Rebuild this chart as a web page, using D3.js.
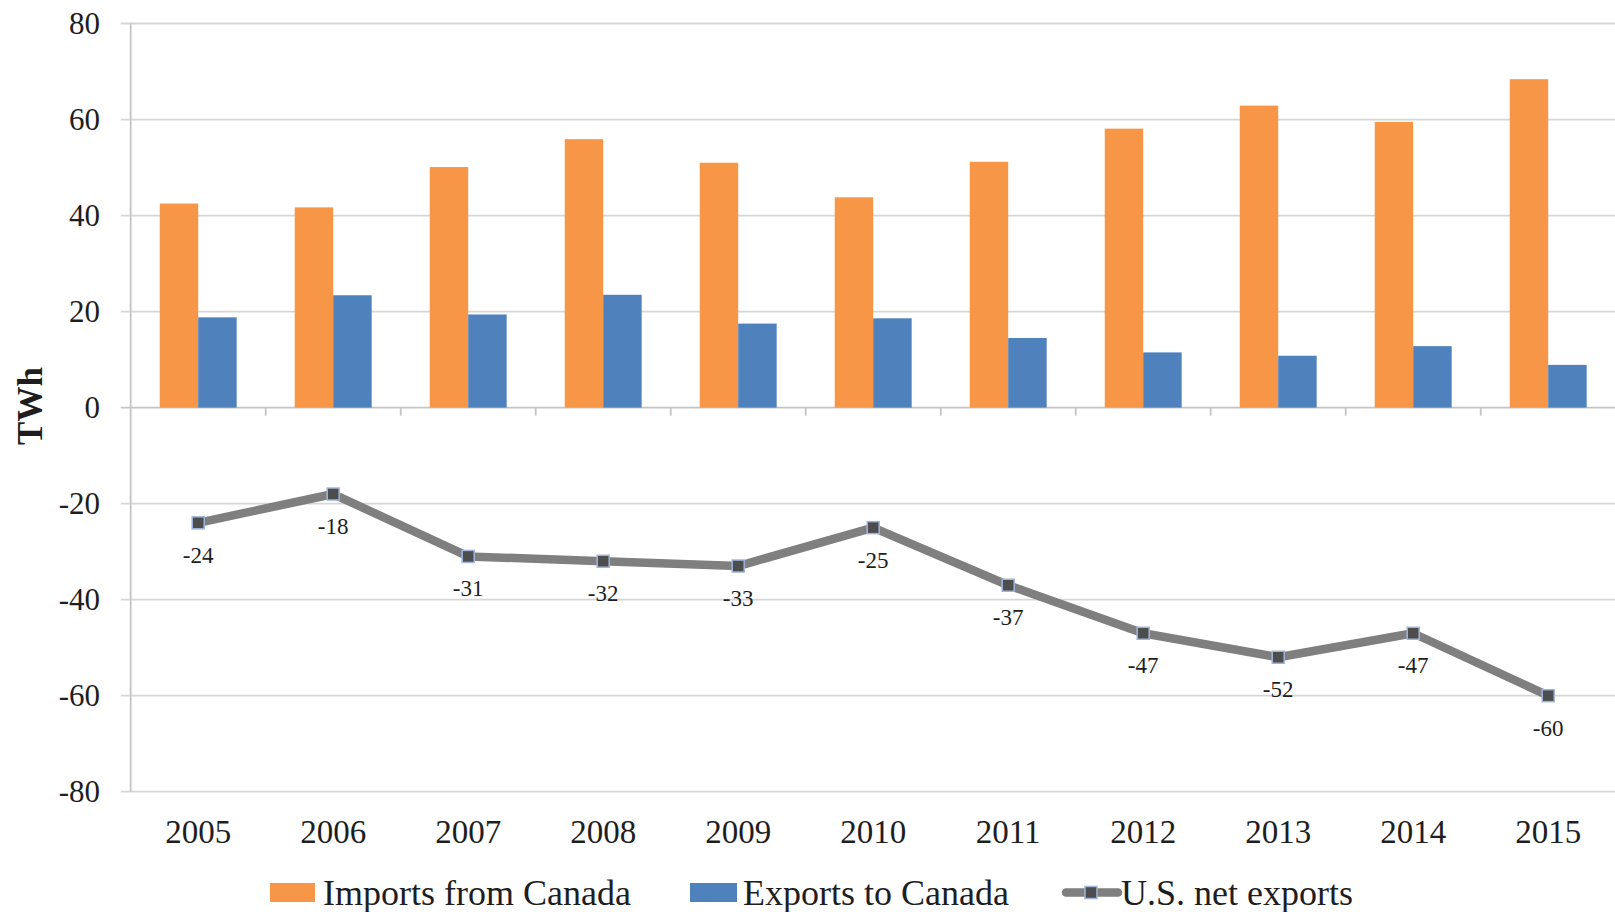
<!DOCTYPE html>
<html>
<head>
<meta charset="utf-8">
<script src="https://cdn.jsdelivr.net/npm/d3@7"></script>
<style>
  html, body { margin: 0; padding: 0; background: #fff; }
  svg text { font-family: "Liberation Serif", "Times New Roman", serif; fill: #1e1e1e; }
</style>
</head>
<body>
<svg id="chart" width="1615" height="912"></svg>
<script>
// U.S.–Canada electricity trade, TWh
const years = ["2005","2006","2007","2008","2009","2010","2011","2012","2013","2014","2015"];
const importsFromCanada = [42.5, 41.7, 50.1, 55.9, 51.0, 43.8, 51.2, 58.1, 62.9, 59.5, 68.4];
const exportsToCanada   = [18.8, 23.4, 19.4, 23.5, 17.5, 18.6, 14.5, 11.5, 10.8, 12.8,  8.9];
const netExports        = [-24, -18, -31, -32, -33, -25, -37, -47, -52, -47, -60];
const yTicks = [80, 60, 40, 20, 0, -20, -40, -60, -80];
const seriesNames = ["Imports from Canada", "Exports to Canada", "U.S. net exports"];

const colors = { imports: "#f79646", exports: "#4f81bd", net: "#7f7f7f", marker: "#4d4d4d", markerEdge: "#9fb6dc" };

const svg = d3.select("#chart");
const plot = { left: 130.7, right: 1615.7, top: 23.5, bottom: 791.7 };

const x = d3.scaleBand().domain(years).range([plot.left, plot.right]).padding(0);
const groupFrac = 0.57;
const inner = d3.scaleBand().domain(["imports", "exports"])
  .range([x.bandwidth() * (1 - groupFrac) / 2, x.bandwidth() * (1 + groupFrac) / 2]).padding(0);
const y = d3.scaleLinear().domain([-80, 80]).range([plot.bottom, plot.top]);

// horizontal gridlines with short left ticks
svg.append("g").selectAll("line").data(yTicks).join("line")
  .attr("x1", plot.left - 10).attr("x2", 1615)
  .attr("y1", d => y(d)).attr("y2", d => y(d))
  .attr("stroke", d => d === 0 ? "#c4c4c4" : "#d6d6d6")
  .attr("stroke-width", 1.8);

// vertical axis line
svg.append("line")
  .attr("x1", plot.left).attr("x2", plot.left)
  .attr("y1", plot.top).attr("y2", plot.bottom)
  .attr("stroke", "#c4c4c4").attr("stroke-width", 1.8);

// y tick labels
svg.append("g").selectAll("text").data(yTicks).join("text")
  .attr("x", 100).attr("y", d => y(d))
  .attr("text-anchor", "end").attr("dominant-baseline", "central")
  .style("font-size", "31px")
  .text(d => d);

// category ticks on the zero line
const catEdges = years.map(yr => x(yr)).slice(1);
svg.append("g").selectAll("line").data(catEdges).join("line")
  .attr("x1", d => d).attr("x2", d => d)
  .attr("y1", y(0)).attr("y2", y(0) + 8)
  .attr("stroke", "#c4c4c4").attr("stroke-width", 1.8);

// bars
const barG = svg.append("g");
barG.selectAll("rect.imp").data(years).join("rect")
  .attr("class", "imp")
  .attr("x", (d) => x(d) + inner("imports"))
  .attr("width", inner.bandwidth())
  .attr("y", (d, i) => y(importsFromCanada[i]))
  .attr("height", (d, i) => y(0) - y(importsFromCanada[i]))
  .attr("fill", colors.imports);
barG.selectAll("rect.exp").data(years).join("rect")
  .attr("class", "exp")
  .attr("x", (d) => x(d) + inner("exports"))
  .attr("width", inner.bandwidth())
  .attr("y", (d, i) => y(exportsToCanada[i]))
  .attr("height", (d, i) => y(0) - y(exportsToCanada[i]))
  .attr("fill", colors.exports);

// net exports line
const cx = d => x(d) + x.bandwidth() / 2;
const line = d3.line().x((d, i) => cx(years[i])).y(d => y(d));
svg.append("path").datum(netExports)
  .attr("d", line)
  .attr("fill", "none")
  .attr("stroke", colors.net)
  .attr("stroke-width", 8.5)
  .attr("stroke-linejoin", "round");

// markers
svg.append("g").selectAll("rect").data(netExports).join("rect")
  .attr("x", (d, i) => cx(years[i]) - 6)
  .attr("y", d => y(d) - 6)
  .attr("width", 12).attr("height", 12)
  .attr("fill", colors.marker)
  .attr("stroke", colors.markerEdge).attr("stroke-width", 1.5);

// value labels
svg.append("g").selectAll("text").data(netExports).join("text")
  .attr("x", (d, i) => cx(years[i]))
  .attr("y", d => y(d) + 40)
  .attr("text-anchor", "middle")
  .style("font-size", "23px")
  .text(d => d);

// year labels
svg.append("g").selectAll("text").data(years).join("text")
  .attr("x", d => cx(d)).attr("y", 843)
  .attr("text-anchor", "middle")
  .style("font-size", "33px")
  .text(d => d);

// y axis title
svg.append("text")
  .attr("transform", "translate(42,406) rotate(-90)")
  .attr("text-anchor", "middle")
  .style("font-size", "35px").style("font-weight", "bold")
  .text("TWh");

// legend
const lg = svg.append("g");
lg.append("rect").attr("x", 270).attr("y", 883).attr("width", 45).attr("height", 19).attr("fill", colors.imports);
lg.append("text").attr("x", 323).attr("y", 905).style("font-size", "36px").text(seriesNames[0]);
lg.append("rect").attr("x", 690).attr("y", 883).attr("width", 47).attr("height", 19).attr("fill", colors.exports);
lg.append("text").attr("x", 743).attr("y", 905).style("font-size", "36px").text(seriesNames[1]);
lg.append("line").attr("x1", 1066).attr("x2", 1118).attr("y1", 892.5).attr("y2", 892.5)
  .attr("stroke", colors.net).attr("stroke-width", 8.5).attr("stroke-linecap", "round");
lg.append("rect").attr("x", 1085).attr("y", 886.5).attr("width", 12).attr("height", 12)
  .attr("fill", colors.marker).attr("stroke", colors.markerEdge).attr("stroke-width", 1.5);
lg.append("text").attr("x", 1121).attr("y", 905).style("font-size", "36px").text(seriesNames[2]);
</script>
</body>
</html>
